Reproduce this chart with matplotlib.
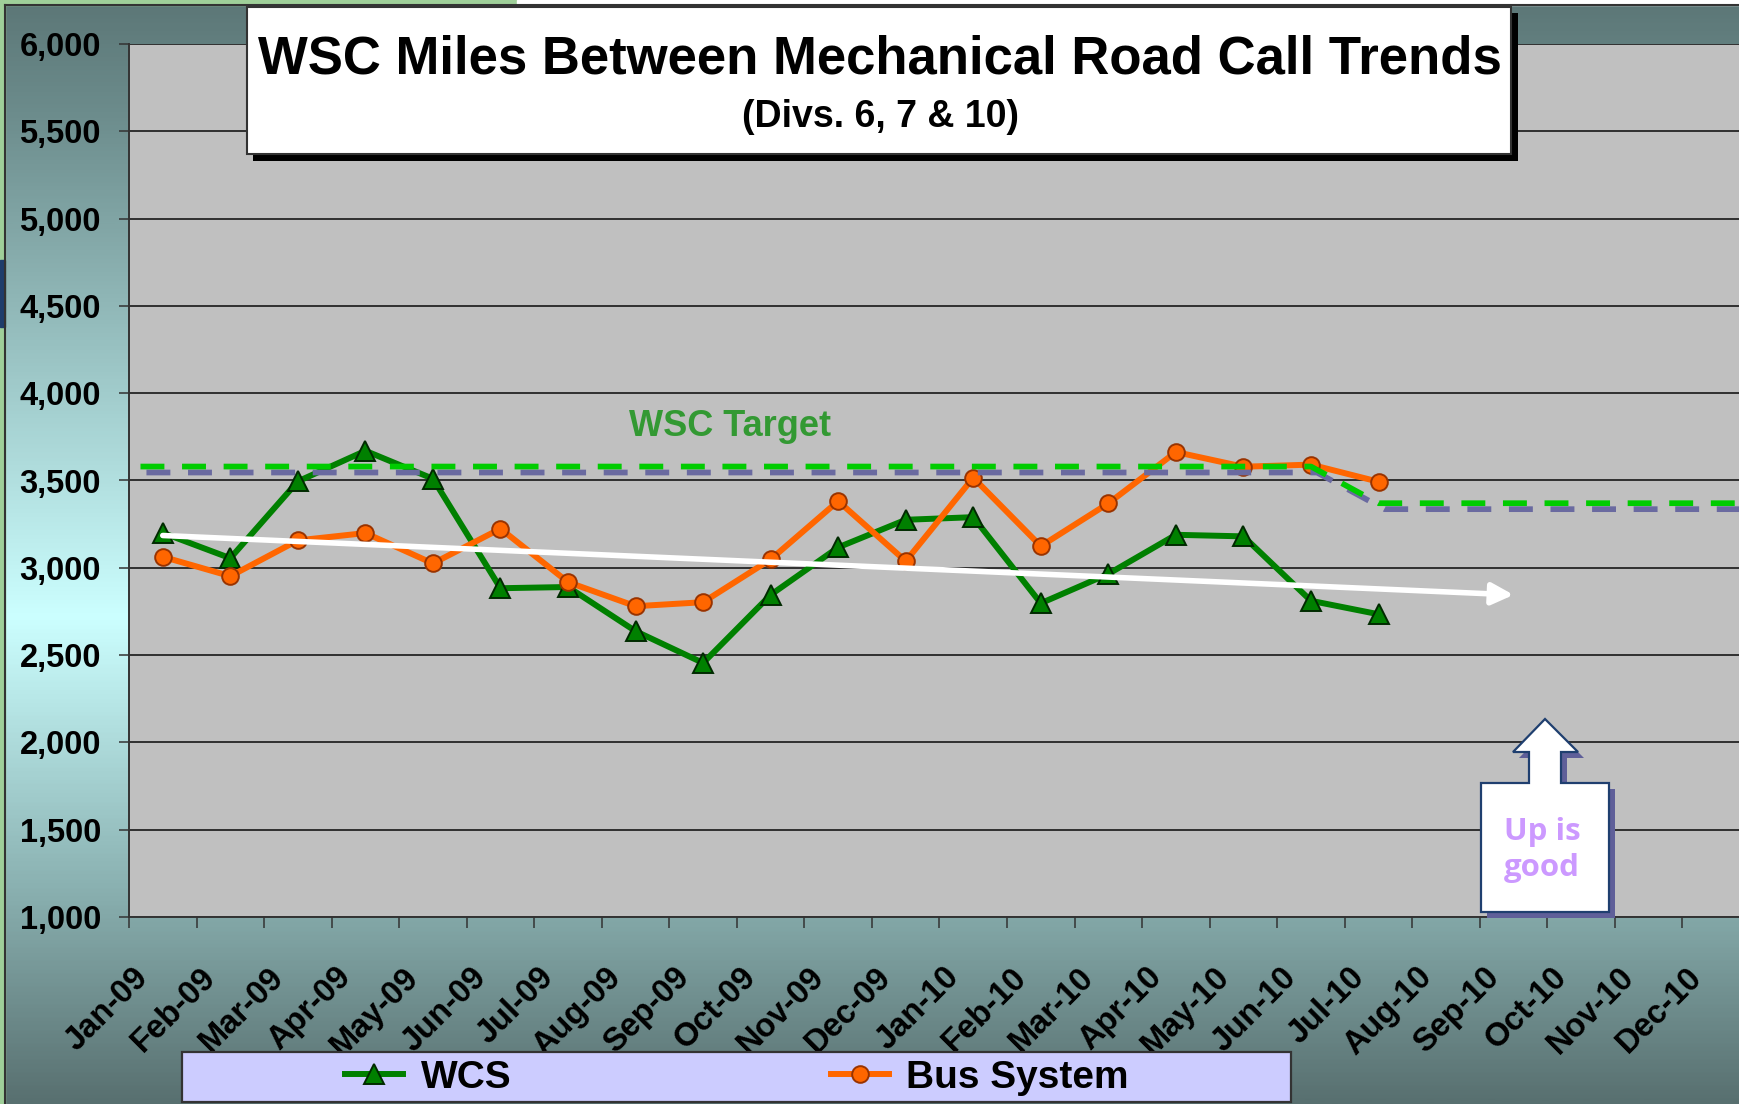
import numpy as np
import matplotlib
matplotlib.use("Agg")
import matplotlib.pyplot as plt
from matplotlib.patches import Rectangle, Polygon
from matplotlib.colors import LinearSegmentedColormap
import matplotlib.patheffects as pe
from matplotlib.transforms import ScaledTranslation
from matplotlib.ticker import FuncFormatter, MultipleLocator

# ---------------- data ----------------
months = ["Jan-09", "Feb-09", "Mar-09", "Apr-09", "May-09", "Jun-09", "Jul-09", "Aug-09",
          "Sep-09", "Oct-09", "Nov-09", "Dec-09", "Jan-10", "Feb-10", "Mar-10", "Apr-10",
          "May-10", "Jun-10", "Jul-10", "Aug-10", "Sep-10", "Oct-10", "Nov-10", "Dec-10"]
wcs = [3200, 3055, 3495, 3670, 3510, 2883, 2890, 2637, 2455, 2845, 3117, 3275,
       3290, 2797, 2965, 3189, 3180, 2811, 2734]
bus = [3063, 2952, 3157, 3199, 3025, 3224, 2918, 2780, 2803, 3048, 3382, 3038,
       3516, 3124, 3369, 3663, 3579, 3591, 3493]
target = [3580, 3580, 3580, 3580, 3580, 3580, 3580, 3580, 3580, 3580, 3580, 3580,
          3580, 3580, 3580, 3580, 3580, 3580, 3370, 3370, 3370, 3370, 3370, 3370]
trend_months = ["Jan-09", "Sep-10"]
trend_values = [3185, 2845]
y_ticks = [1000, 1500, 2000, 2500, 3000, 3500, 4000, 4500, 5000, 5500, 6000]

W, H = 1740, 1104
fig = plt.figure(figsize=(W / 100, H / 100), dpi=100)
FONT = "Liberation Sans"


def fx(x):
    return x / W


def fy(y):
    return 1 - y / H


# ---------------- background ----------------
bg = fig.add_axes([0, 0, 1, 1], zorder=-5)
cmap = LinearSegmentedColormap.from_list(
    "bg", [(0, "#5C7777"), (0.1, "#6C8C8C"), (0.56, "#CCFFFF"), (0.82, "#86ACAC"), (1, "#587070")])
grad = np.linspace(0, 1, 600).reshape(-1, 1)
bg.imshow(grad, cmap=cmap, aspect="auto", extent=[0, 1, 0, 1], origin="upper")
bg.set_xlim(0, 1)
bg.set_ylim(0, 1)
bg.axis("off")
bg.add_patch(Rectangle((0, 0), fx(5), 1, color="#9FCF99", transform=bg.transAxes))
bg.add_patch(Rectangle((0, fy(5)), fx(517), 5 / H, color="#9FCF99", transform=bg.transAxes))
bg.add_patch(Rectangle((fx(517), fy(5)), 1, 5 / H, color="white", transform=bg.transAxes))
bg.add_patch(Rectangle((0, fy(327)), fx(5), 67 / H, color="#1F3D6B", transform=bg.transAxes))
bg.plot([fx(5), fx(5)], [0, fy(5)], color="#333333", lw=1.5, transform=bg.transAxes)
bg.plot([fx(5), 1], [fy(5), fy(5)], color="#333333", lw=1.5, transform=bg.transAxes)

# ---------------- main axes ----------------
left, right, top, bottom = 129, 1750, 44, 917
ax = fig.add_axes([fx(left), fy(bottom), (right - left) / W, (bottom - top) / H])
ax.set_facecolor("#C0C0C0")
x = np.arange(len(months))
ax.set_xlim(-0.5, len(months) - 0.5)
ax.set_ylim(y_ticks[0], y_ticks[-1])

ax.yaxis.set_major_locator(MultipleLocator(500))
ax.yaxis.set_major_formatter(FuncFormatter(lambda v, p: f"{int(v):,}"))
ax.grid(axis="y", color="#303030", lw=1.4)
ax.set_axisbelow(True)
for s in ["top", "right"]:
    ax.spines[s].set_visible(False)
for s in ["left", "bottom"]:
    ax.spines[s].set_color("#333333")
    ax.spines[s].set_linewidth(1.4)

ax.tick_params(axis="y", length=7.2, width=1.1, color="#333333", pad=13,
               labelsize=23.5)
for lab in ax.get_yticklabels():
    lab.set_fontweight("bold")
    lab.set_fontfamily(FONT)

ax.set_xticks(x)
ax.set_xticklabels(months, rotation=45, ha="right", va="center",
                   rotation_mode="anchor", fontsize=23.5, fontweight="bold", family=FONT)
ax.set_xticks(np.arange(-0.5, len(months)), minor=True)
ax.tick_params(axis="x", which="major", length=0, pad=40)
ax.tick_params(axis="x", which="minor", length=8, width=1.1, color="#333333")
for lab in ax.get_xticklabels():
    lab.set_transform(lab.get_transform() + ScaledTranslation(-19 / 100, 0, fig.dpi_scale_trans))

# series
l_wcs, = ax.plot(x[:len(wcs)], wcs, color="#008000", lw=4.3, marker="^", ms=14,
                 mfc="#008000", mec="#002A00", mew=1.4, label="WCS", zorder=3)
l_bus, = ax.plot(x[:len(bus)], bus, color="#FF6600", lw=4.3, marker="o", ms=12,
                 mfc="#FF6600", mec="#993300", mew=1.4, label="Bus System", zorder=4)

# target line (extends to the plot edges)
tx = np.concatenate([[-0.33], x, [len(months) - 0.4]])
ty = [target[0]] + target + [target[-1]]
ax.plot(tx, ty, color="#00CC00", lw=4.1, linestyle=(0, (4.2, 3.1)), zorder=5,
        solid_capstyle="butt", dash_capstyle="butt",
        path_effects=[pe.SimpleLineShadow(offset=(4.3, -4.3), shadow_color="#6A6AA0", alpha=1.0),
                      pe.Normal()])
ax.text(8.4, 3810, "WSC Target", color="#339933", fontsize=26, fontweight="bold",
        family=FONT, ha="center", va="center", zorder=6)

# trend arrow
ti = [months.index(m) for m in trend_months]
ax.annotate("", xy=(ti[1], trend_values[1]), xytext=(ti[0], trend_values[0]),
            arrowprops=dict(arrowstyle="-|>,head_length=1.3,head_width=0.65",
                            color="white", lw=4.0, shrinkA=0, shrinkB=0),
            zorder=7)

# ---------------- title box ----------------
fig.add_artist(Rectangle((fx(253), fy(161)), (1518 - 253) / W, (161 - 13) / H,
                         transform=fig.transFigure, facecolor="black", edgecolor="none", zorder=5))
fig.add_artist(Rectangle((fx(247), fy(154)), (1511 - 247) / W, (154 - 7) / H,
                         transform=fig.transFigure, facecolor="white", edgecolor="#333333",
                         lw=1.5, zorder=6))
fig.text(fx(880), fy(59), "WSC Miles Between Mechanical Road Call Trends", fontsize=38,
         fontweight="bold", family=FONT, ha="center", va="center", zorder=7)
fig.text(fx(880), fy(117), "(Divs. 6, 7 & 10)", fontsize=27,
         fontweight="bold", family=FONT, ha="center", va="center", zorder=7)

# ---------------- "Up is good" callout ----------------
shape = [(1545, 719), (1578, 752), (1561, 752), (1561, 783), (1609, 783), (1609, 912),
         (1481, 912), (1481, 783), (1529, 783), (1529, 752), (1513, 752)]
fig.add_artist(Polygon([(fx(a + 6), fy(b + 6)) for a, b in shape], closed=True,
                       transform=fig.transFigure, facecolor="#5F5F99", edgecolor="none", zorder=5))
fig.add_artist(Polygon([(fx(a), fy(b)) for a, b in shape], closed=True,
                       transform=fig.transFigure, facecolor="white", edgecolor="#1F3F6F",
                       lw=1.6, zorder=6))
fig.text(fx(1542), fy(850), "Up is\ngood", color="#CC99FF", fontsize=22.5, fontweight="bold",
         family=["Open Sans", "DejaVu Sans"], ha="center", va="center", linespacing=1.3,
         zorder=7)

# ---------------- legend ----------------
fig.add_artist(Rectangle((fx(182), fy(1102)), (1291 - 182) / W, 50 / H,
                         transform=fig.transFigure, facecolor="#CCCCFF", edgecolor="#333333",
                         lw=1.6, zorder=5))
fig.legend(handles=[l_wcs, l_bus], loc="center", bbox_to_anchor=(fx(737), fy(1078)),
           ncol=2, frameon=False, prop={"weight": "bold", "size": 28, "family": FONT},
           handlelength=1.5, handletextpad=0.45, columnspacing=8.2)

fig.savefig("out.png", dpi=100)
